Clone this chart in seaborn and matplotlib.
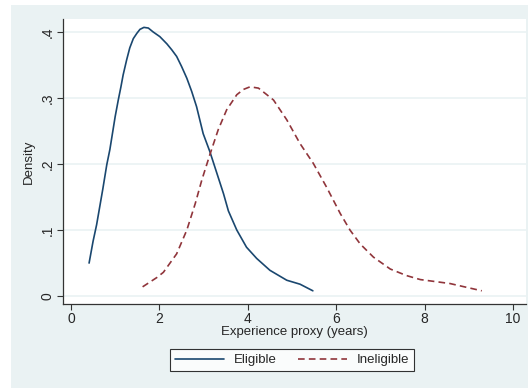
import pandas as pd
import matplotlib.pyplot as plt
import seaborn as sns
import numpy as np
from matplotlib.patches import Rectangle

# kernel density curves
eligible_x = [0.41, 0.50, 0.58, 0.72, 0.81, 0.88, 1.00, 1.07, 1.13, 1.18, 1.26, 1.33, 1.41, 1.49, 1.56, 1.65,
              1.75, 1.86, 2.01, 2.17, 2.28, 2.39, 2.50, 2.62, 2.73, 2.84, 2.99, 3.14, 3.30, 3.45, 3.56,
              3.75, 3.97, 4.20, 4.50, 4.88, 5.18, 5.47]
eligible_y = [0.050, 0.083, 0.108, 0.162, 0.199, 0.222, 0.272, 0.297, 0.317, 0.335, 0.358, 0.376, 0.390, 0.398,
              0.404, 0.407, 0.406, 0.400, 0.393, 0.382, 0.373, 0.363, 0.348, 0.330, 0.310, 0.287, 0.246, 0.219,
              0.186, 0.155, 0.129, 0.100, 0.074, 0.057, 0.039, 0.024, 0.018, 0.008]

ineligible_x = [1.62, 1.94, 2.09, 2.39, 2.62, 2.81, 2.96, 3.14, 3.33, 3.52, 3.75, 3.90, 4.05, 4.24, 4.43,
                4.58, 4.88, 5.18, 5.48, 5.78, 6.09, 6.31, 6.54, 6.84, 7.22, 7.59, 7.90, 8.57, 9.29]
ineligible_y = [0.014, 0.028, 0.036, 0.064, 0.100, 0.140, 0.176, 0.214, 0.252, 0.282, 0.305, 0.313, 0.317, 0.315,
                0.305, 0.297, 0.267, 0.231, 0.201, 0.165, 0.125, 0.100, 0.079, 0.059, 0.041, 0.031, 0.025,
                0.019, 0.008]

x_ticks = [0, 2, 4, 6, 8, 10]
y_ticks = [0, 0.1, 0.2, 0.3, 0.4]
y_tick_labels = ["0", ".1", ".2", ".3", ".4"]

df = pd.concat([
    pd.DataFrame({"x": eligible_x, "y": eligible_y, "group": "Eligible"}),
    pd.DataFrame({"x": ineligible_x, "y": ineligible_y, "group": "Ineligible"}),
])

sns.set_style("white")
plt.rcParams['font.family'] = ['Liberation Sans', 'DejaVu Sans']

fig = plt.figure(figsize=(5.28, 3.88), dpi=100)
fig.patch.set_facecolor("white")
# stata style outer panel
fig.patches.append(Rectangle((11 / 528, 0), 1 - 11 / 528, 1 - 5 / 388, transform=fig.transFigure,
                             facecolor="#eaf2f3", edgecolor="none", zorder=-10))

ax = fig.add_axes([63 / 528, 84 / 388, 463 / 528, 285 / 388])
ax.set_facecolor("white")

sns.lineplot(data=df, x="x", y="y", hue="group", style="group",
             palette={"Eligible": "#1a476f", "Ineligible": "#90353b"},
             dashes={"Eligible": "", "Ineligible": (4, 2.5)},
             linewidth=1.2, sort=False, estimator=None, legend=False, ax=ax)

ax.set_xlim(-0.18, 10.29)
ax.set_ylim(-0.012, 0.4197)
ax.set_xticks(x_ticks)
ax.set_xticklabels([str(t) for t in x_ticks], fontsize=10)
ax.set_yticks(y_ticks)
ax.set_yticklabels(y_tick_labels, fontsize=10, rotation=90, va="center")
ax.yaxis.grid(True, color="#eaf2f3", linewidth=1.2)
ax.set_axisbelow(True)

for s in ["top", "right"]:
    ax.spines[s].set_visible(False)
for s in ["left", "bottom"]:
    ax.spines[s].set_color("#333333")
    ax.spines[s].set_linewidth(0.9)
ax.tick_params(axis="both", direction="out", length=4, width=0.8, color="#333333", pad=2, left=True, bottom=True)

ax.set_xlabel("Experience proxy (years)", fontsize=9.5, labelpad=0)
ax.set_ylabel("Density", fontsize=9.5, labelpad=4)

handles = [plt.Line2D([], [], color="#1a476f", linewidth=1.2),
           plt.Line2D([], [], color="#90353b", linewidth=1.2, linestyle=(0, (4, 2.5)))]
leg = fig.legend(handles, ["Eligible", "Ineligible"], loc="center", bbox_to_anchor=(292 / 528, 1 - 360 / 388),
                 ncol=2, fontsize=9.5, frameon=True, fancybox=False, handlelength=3.7, columnspacing=1.6,
                 borderpad=0.35, handletextpad=0.75)
leg.get_frame().set_edgecolor("black")
leg.get_frame().set_linewidth(0.8)
leg.get_frame().set_facecolor("white")

plt.savefig("out.png", dpi=100)
